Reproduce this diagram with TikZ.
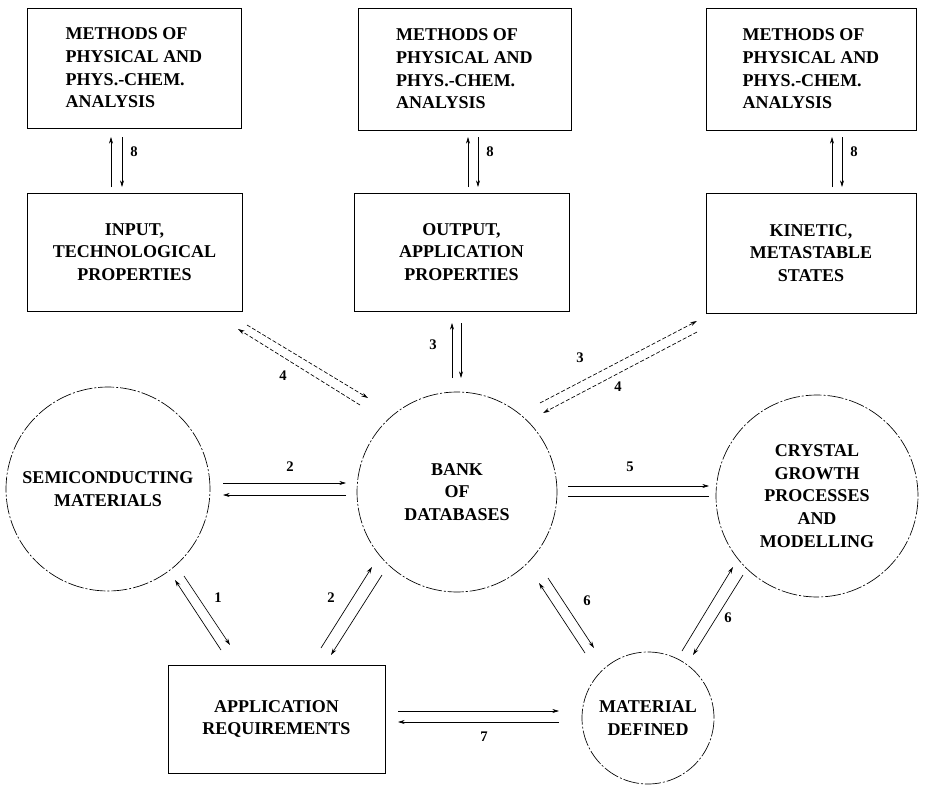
\documentclass[tikz,border=0pt]{standalone}
\usepackage{fontspec}
\setmainfont{Liberation Serif}
\usetikzlibrary{arrows.meta}
\newcommand\boxfont{\bfseries\fontsize{13.5}{17}\selectfont}
\newcommand\labfont{\bfseries\fontsize{11}{13}\selectfont}
\begin{document}
\begin{tikzpicture}[x=0.75pt,y=-0.75pt,
  box/.style={draw, line width=0.7pt, font=\boxfont, inner sep=0pt},
  circ/.style={circle, draw, line width=0.5pt, dash pattern=on 12pt off 1.5pt on 1.5pt off 1.5pt, font=\boxfont, align=center, inner sep=0pt},
  arr/.style={-{Stealth[length=5pt,width=3pt]}, line width=0.5pt},
  plain/.style={line width=0.5pt},
  darr/.style={arr, dash pattern=on 3pt off 1.5pt},
  lab/.style={font=\labfont, inner sep=0pt}]
\useasboundingbox (0,0) rectangle (926,785);
% top boxes
\node[box, align=left, minimum width=160.5pt, minimum height=90pt] (m1) at (134,68) {METHODS OF\\PHYSICAL AND\\PHYS.-CHEM.\\ANALYSIS};
\node[box, align=left, minimum width=159.75pt, minimum height=91.5pt] (m2) at (464.5,69) {METHODS OF\\PHYSICAL AND\\PHYS.-CHEM.\\ANALYSIS};
\node[box, align=left, minimum width=157.5pt, minimum height=91.5pt] (m3) at (811,69) {METHODS OF\\PHYSICAL AND\\PHYS.-CHEM.\\ANALYSIS};
% second row
\node[box, align=center, minimum width=161.25pt, minimum height=88.5pt] (inp) at (134.5,252) {INPUT,\\TECHNOLOGICAL\\PROPERTIES};
\node[box, align=center, minimum width=161.25pt, minimum height=88.5pt] (out) at (461.5,252) {OUTPUT,\\APPLICATION\\PROPERTIES};
\node[box, align=center, minimum width=157.5pt, minimum height=90pt] (kin) at (811,253) {KINETIC,\\METASTABLE\\STATES};
% circles
\node[circ, minimum size=153pt] (sem) at (108,489) {SEMICONDUCTING\\MATERIALS};
\node[circ, minimum size=150pt] (bank) at (457,492) {BANK\\OF\\DATABASES};
\node[circ, minimum size=151.5pt] (crys) at (817,496) {CRYSTAL\\GROWTH\\PROCESSES\\AND\\MODELLING};
\node[circ, minimum size=99pt] (mat) at (648,718) {MATERIAL\\DEFINED};
\node[box, align=center, minimum width=162.75pt, minimum height=81pt] (app) at (276.5,719) {APPLICATION\\REQUIREMENTS};
% arrow end points
\coordinate (a1) at (111,137); \coordinate (a2) at (111,187);
\coordinate (a3) at (122,137); \coordinate (a4) at (122,187);
\coordinate (b1) at (468,137); \coordinate (b2) at (468,187);
\coordinate (b3) at (478,137); \coordinate (b4) at (478,187);
\coordinate (c1) at (832,137); \coordinate (c2) at (832,187);
\coordinate (c3) at (842,137); \coordinate (c4) at (842,187);
\coordinate (d1) at (452,323); \coordinate (d2) at (452,378);
\coordinate (d3) at (461,323); \coordinate (d4) at (461,378);
\coordinate (e1) at (247,325); \coordinate (e2) at (368,398);
\coordinate (e3) at (360,405); \coordinate (e4) at (238,329);
\coordinate (f1) at (540,403); \coordinate (f2) at (697,321);
\coordinate (f3) at (697,332); \coordinate (f4) at (543,413);
\coordinate (g1) at (223,483); \coordinate (g2) at (346,483);
\coordinate (g3) at (346,495); \coordinate (g4) at (223,495);
\coordinate (h1) at (568,486); \coordinate (h2) at (709,486);
\coordinate (h3) at (709,496); \coordinate (h4) at (568,496);
\coordinate (i1) at (221,650); \coordinate (i2) at (175,580);
\coordinate (i3) at (184,576); \coordinate (i4) at (230,645);
\coordinate (j1) at (321,648); \coordinate (j2) at (372,567);
\coordinate (j3) at (382,575); \coordinate (j4) at (331,655);
\coordinate (k1) at (585,653); \coordinate (k2) at (539,583);
\coordinate (k3) at (548,578); \coordinate (k4) at (594,648);
\coordinate (l1) at (682,651); \coordinate (l2) at (733,567);
\coordinate (l3) at (743,575); \coordinate (l4) at (693,655);
\coordinate (n1) at (398,711); \coordinate (n2) at (559,711);
\coordinate (n3) at (559,722); \coordinate (n4) at (398,722);
% arrows
\draw[arr] (a2) -- (a1); \draw[arr] (a3) -- (a4);
\draw[arr] (b2) -- (b1); \draw[arr] (b3) -- (b4);
\draw[arr] (c2) -- (c1); \draw[arr] (c3) -- (c4);
\draw[arr] (d2) -- (d1); \draw[arr] (d3) -- (d4);
\draw[darr] (e1) -- (e2); \draw[darr] (e3) -- (e4);
\draw[darr] (f1) -- (f2); \draw[darr] (f3) -- (f4);
\draw[arr] (g1) -- (g2); \draw[arr] (g3) -- (g4);
\draw[arr] (h1) -- (h2); \draw[plain] (h3) -- (h4);
\draw[arr] (i1) -- (i2); \draw[arr] (i3) -- (i4);
\draw[arr] (j1) -- (j2); \draw[arr] (j3) -- (j4);
\draw[arr] (k1) -- (k2); \draw[arr] (k3) -- (k4);
\draw[arr] (l1) -- (l2); \draw[arr] (l3) -- (l4);
\draw[arr] (n1) -- (n2); \draw[arr] (n3) -- (n4);
% labels
\node[lab] (t8a) at (134,152) {8};
\node[lab] (t8b) at (490,152) {8};
\node[lab] (t8c) at (854,152) {8};
\node[lab] (t3a) at (433,345) {3};
\node[lab] (t4a) at (283,376) {4};
\node[lab] (t3b) at (580,358) {3};
\node[lab] (t4b) at (618,387) {4};
\node[lab] (t2a) at (290,467) {2};
\node[lab] (t5) at (630,467) {5};
\node[lab] (t1) at (218,598) {1};
\node[lab] (t2b) at (331,598) {2};
\node[lab] (t6a) at (587,601) {6};
\node[lab] (t6b) at (728,618) {6};
\node[lab] (t7) at (484,737) {7};
\end{tikzpicture}
\end{document}
